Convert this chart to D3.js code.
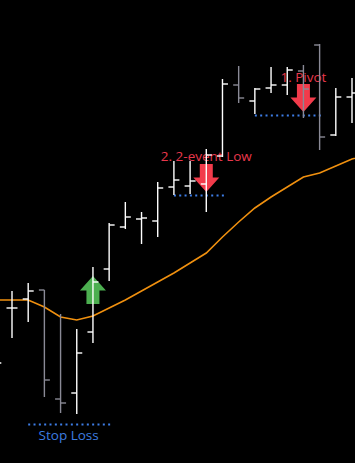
<!DOCTYPE html>
<html>
<head>
<meta charset="utf-8">
<script src="https://cdn.jsdelivr.net/npm/d3@7"></script>
<style>
  html, body { margin: 0; padding: 0; background: #000; }
  svg { display: block; }
</style>
</head>
<body>
<svg></svg>
<script>
var width = 355;
var height = 463;

// bar index (-1 is the one cut off at the left edge)
var barIndex = [-1, 0, 1, 2, 3, 4, 5, 6, 7, 8, 9, 10, 11, 12, 13, 14, 15, 16, 17, 18, 19, 20, 21];
var opens  = [130, 192, 201, 210, 101, 107, 168, 231, 273, 281, 279, 313, 314, 316, 344, 415, 399, 412, 415, 429, 455, 365, 403];
var highs  = [160, 209, 217, 210, 186, 171, 233, 277, 298, 288, 318, 339, 339, 351, 421, 434, 412, 433, 433, 435, 456, 412, 422];
var lows   = [120, 162, 178, 103,  87,  86, 157, 219, 271, 256, 263, 305, 306, 288, 343, 397, 386, 407, 405, 382, 350, 364, 377];
var closes = [137, 192, 209, 120,  97, 147, 218, 275, 283, 282, 312, 320, 319, 345, 416, 402, 411, 415, 430, 411, 363, 403, 407];

// moving average, one value per bar plus one past the right edge
var maIndex = [-1, 0, 1, 2, 3, 4, 5, 6, 7, 8, 9, 10, 11, 12, 13, 14, 15, 16, 17, 18, 19, 20, 21, 22];
var maValues = [200, 200, 200, 193, 183, 180, 184, 192, 200, 209, 218, 227, 237, 247, 263, 278, 292, 303, 313, 323, 327, 334, 341, 345];

// signals
var arrows = [
  { bar: 5,  dir: 'up',   tip: 224, color: '#4caf50' },
  { bar: 12, dir: 'down', tip: 308, color: '#f23b4b' },
  { bar: 18, dir: 'down', tip: 388, color: '#f23b4b' }
];
var levels = [
  { from: 1,  to: 6,  price: 76 },
  { from: 10, to: 13, price: 305 },
  { from: 15, to: 19, price: 385 }
];
var labels = [
  { bar: 3.5, price: 60,  text: 'Stop Loss',      color: '#3d7de0' },
  { bar: 12,  price: 339, text: '2. 2-event Low', color: '#e8384c' },
  { bar: 18,  price: 418, text: '1. Pivot',       color: '#e8384c' }
];

var bars = barIndex.map(function (d, i) {
  return { i: d, o: opens[i], h: highs[i], l: lows[i], c: closes[i] };
});

var x = d3.scaleLinear().domain([0, 21]).range([12, 352]);
var y = d3.scaleLinear().domain([37, 500]).range([height, 0]);

var svg = d3.select('svg')
    .attr('width', width)
    .attr('height', height);

svg.append('rect')
    .attr('width', width)
    .attr('height', height)
    .attr('fill', '#000');

// moving average
var line = d3.line()
    .x(function (d) { return x(d[0]); })
    .y(function (d) { return y(d[1]); });

svg.append('path')
    .datum(d3.zip(maIndex, maValues))
    .attr('fill', 'none')
    .attr('stroke', '#f0900f')
    .attr('stroke-width', 1.6)
    .attr('d', line);

// dotted levels
svg.append('g').selectAll('line')
    .data(levels)
  .enter().append('line')
    .attr('x1', function (d) { return x(d.from); })
    .attr('x2', function (d) { return x(d.to) + 2; })
    .attr('y1', function (d) { return Math.round(y(d.price)) + 0.5; })
    .attr('y2', function (d) { return Math.round(y(d.price)) + 0.5; })
    .attr('stroke', '#3d7de6')
    .attr('stroke-width', 2)
    .attr('stroke-dasharray', '2,3.33');

// arrows
var headW = 13, shaftW = 6.5, headH = 14.5, totalH = 28;
svg.append('g').selectAll('path')
    .data(arrows)
  .enter().append('path')
    .attr('fill', function (d) { return d.color; })
    .attr('d', function (d) {
      var cx = x(d.bar), ty = y(d.tip);
      var s = d.dir === 'up' ? 1 : -1;
      var p = d3.path();
      p.moveTo(cx, ty);
      p.lineTo(cx + headW, ty + s * headH);
      p.lineTo(cx + shaftW, ty + s * headH);
      p.lineTo(cx + shaftW, ty + s * totalH);
      p.lineTo(cx - shaftW, ty + s * totalH);
      p.lineTo(cx - shaftW, ty + s * headH);
      p.lineTo(cx - headW, ty + s * headH);
      p.closePath();
      return p.toString();
    });

// labels
svg.append('g').selectAll('text')
    .data(labels)
  .enter().append('text')
    .attr('x', function (d) { return x(d.bar); })
    .attr('y', function (d) { return y(d.price); })
    .attr('text-anchor', 'middle')
    .attr('font-family', '"Open Sans", sans-serif')
    .attr('font-size', 13.5)
    .attr('fill', function (d) { return d.color; })
    .text(function (d) { return d.text; });

// OHLC bars on top
var g = svg.append('g').selectAll('g')
    .data(bars)
  .enter().append('g')
    .attr('stroke', function (d) { return d.c < d.o ? '#8a8a96' : '#ffffff'; })
    .attr('stroke-width', 1.4);

g.append('line')
    .attr('x1', function (d) { return x(d.i); })
    .attr('x2', function (d) { return x(d.i); })
    .attr('y1', function (d) { return y(d.h); })
    .attr('y2', function (d) { return y(d.l); });

g.append('line')
    .attr('x1', function (d) { return x(d.i) - 5.5; })
    .attr('x2', function (d) { return x(d.i); })
    .attr('y1', function (d) { return y(d.o); })
    .attr('y2', function (d) { return y(d.o); });

g.append('line')
    .attr('x1', function (d) { return x(d.i); })
    .attr('x2', function (d) { return x(d.i) + 5.5; })
    .attr('y1', function (d) { return y(d.c); })
    .attr('y2', function (d) { return y(d.c); });
</script>
</body>
</html>
